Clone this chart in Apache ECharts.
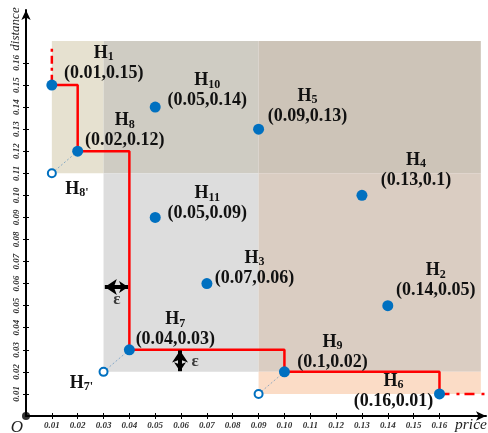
<!DOCTYPE html>
<html>
<head>
<meta charset="utf-8">
<script src="https://cdn.jsdelivr.net/npm/echarts@6/dist/echarts.min.js"></script>
<style>
html,body{margin:0;padding:0;background:#fff;}
#chart{width:488px;height:433px;}
</style>
</head>
<body>
<div id="chart"></div>
<script>
// ---------------- data ----------------
const xTicks = [0.01,0.02,0.03,0.04,0.05,0.06,0.07,0.08,0.09,0.10,0.11,0.12,0.13,0.14,0.15,0.16];
const yTicks = [0.01,0.02,0.03,0.04,0.05,0.06,0.07,0.08,0.09,0.10,0.11,0.12,0.13,0.14,0.15,0.16];

const pointSubs = ['1','10','8','5','4','11','3','2','7','9','6'];
const pointX    = [0.01,0.05,0.02,0.09,0.13,0.05,0.07,0.14,0.04,0.1,0.16];
const pointY    = [0.15,0.14,0.12,0.13,0.1,0.09,0.06,0.05,0.03,0.02,0.01];

const hollowSubs = ["8'","7'",''];
const hollowX    = [0.01,0.03,0.09];
const hollowY    = [0.11,0.02,0.01];
const hollowTargetX = [0.02,0.04,0.1];
const hollowTargetY = [0.12,0.03,0.02];

// skyline step line
const stepX = [0.01,0.02,0.02,0.04,0.04,0.1,0.1,0.16,0.16];
const stepY = [0.15,0.15,0.12,0.12,0.03,0.03,0.02,0.02,0.01];
const dashUpX = [0.01,0.01];
const dashUpY = [0.151,0.167];
const dashRightX = [0.16,0.178];
const dashRightY = [0.01,0.01];

// dominance regions
const regX0 = [0.01,0.03,0.09,0.03,0.09,0.09];
const regX1 = [0.03,0.09,0.176,0.09,0.176,0.176];
const regY0 = [0.11,0.11,0.11,0.02,0.02,0.01];
const regY1 = [0.17,0.17,0.17,0.11,0.11,0.02];

// epsilon arrows
const epsArrowH = [[0.0305,0.0585],[0.0395,0.0585]];
const epsArrowV = [[0.0596,0.0297],[0.0596,0.0203]];
const epsLabelX = [0.0352,0.0654];
const epsLabelY = [0.0526,0.0245];

// ---------------- styles ----------------
const regColors = ['#e6e1d0','#cfccc3','#cdc4b8','#dddddd','#dacdc2','#fbdcc6'];
const labelOffsets = [[52,-22],[52,-16.5],[47,-20.5],[49,-23],[54,-25.5],[52,-14],[47.5,-15.5],[48,-25],[46,-20],[48,-20],[-46,-3]];
const hollowOffsets = [[25,16],[-22,11],[0,0]];
const SERIF = "'Liberation Serif','Times New Roman',serif";
const BLUE = '#0070c0';

const richStyle = {
  h: {fontFamily:SERIF,fontWeight:'bold',fontSize:18,color:'#111',lineHeight:20},
  s: {fontFamily:SERIF,fontWeight:'bold',fontSize:12,color:'#111',lineHeight:13,verticalAlign:'bottom'},
  c: {fontFamily:SERIF,fontWeight:'bold',fontSize:18,color:'#111',lineHeight:20}
};

const pointData = pointX.map((x,i)=>({
  value:[x,pointY[i]],
  label:{
    show:true, position:'inside', offset:labelOffsets[i], align:'center', verticalAlign:'middle',
    formatter:'{h|H}{s|'+pointSubs[i]+'}\n{c|('+x+','+pointY[i]+')}',
    rich:richStyle
  }
}));
const hollowData = hollowX.map((x,i)=>({
  value:[x,hollowY[i]],
  label:{
    show: hollowSubs[i] !== '', position:'inside', offset:hollowOffsets[i], align:'center', verticalAlign:'middle',
    formatter:'{h|H}{s|'+hollowSubs[i]+'}', rich:richStyle
  }
}));

const areaData = regX0.map((x0,i)=>[
  {xAxis:x0,yAxis:regY0[i],itemStyle:{color:regColors[i],opacity:1}},
  {xAxis:regX1[i],yAxis:regY1[i]}
]);

const zip = (xs,ys)=>xs.map((x,i)=>[x,ys[i]]);

const chart = echarts.init(document.getElementById('chart'), null, {renderer:'canvas'});
const axisLabelStyle = {fontFamily:SERIF,fontStyle:'italic',fontWeight:'bold',fontSize:9,color:'#333'};

chart.setOption({
  animation:false,
  backgroundColor:'#fff',
  grid:{left:26,width:460,top:10,height:406},
  xAxis:[{
    type:'value',min:0,max:0.178,interval:0.01,
    axisLine:{show:true,lineStyle:{color:'#000',width:2},symbol:['none','arrow'],symbolSize:[7,10]},
    axisTick:{show:true,customValues:xTicks,length:3,lineStyle:{color:'#000',width:1}},
    axisLabel:{show:true,customValues:xTicks,margin:5,formatter:v=>v.toFixed(2),...axisLabelStyle},
    splitLine:{show:false}
  },{
    type:'value',min:0,max:0.178,position:'bottom',
    axisLine:{show:false},
    axisTick:{show:true,inside:true,customValues:xTicks,length:3,lineStyle:{color:'#000',width:1}},
    axisLabel:{show:false},splitLine:{show:false}
  }],
  yAxis:[{
    type:'value',min:0,max:0.184,interval:0.01,
    axisLine:{show:true,lineStyle:{color:'#000',width:2},symbol:['none','arrow'],symbolSize:[7,10]},
    axisTick:{show:true,customValues:yTicks,length:3,lineStyle:{color:'#000',width:1}},
    axisLabel:{show:true,customValues:yTicks,rotate:90,margin:5,formatter:v=>v.toFixed(2),...axisLabelStyle},
    splitLine:{show:false}
  },{
    type:'value',min:0,max:0.184,position:'left',
    axisLine:{show:false},
    axisTick:{show:true,inside:true,customValues:yTicks,length:3,lineStyle:{color:'#000',width:1}},
    axisLabel:{show:false},splitLine:{show:false}
  }],
  graphic:[
    {type:'text',x:16,y:29,rotation:Math.PI/2,style:{text:'distance',font:"italic 13px 'Liberation Serif'",fill:'#222',align:'center',verticalAlign:'middle'}},
    {type:'text',x:471,y:425,style:{text:'price',font:"italic 15.5px 'Liberation Serif'",fill:'#222',align:'center',verticalAlign:'middle'}},
    {type:'text',x:17,y:428,style:{text:'O',font:"italic 17px 'Liberation Serif'",fill:'#222',align:'center',verticalAlign:'middle'}}
  ],
  series:[
    {
      type:'line',data:[],z:1,silent:true,
      markArea:{silent:true,label:{show:false},data:areaData}
    },
    {
      type:'lines',coordinateSystem:'cartesian2d',z:3,silent:true,polyline:false,
      lineStyle:{color:'#2e75b6',width:1,type:[2,2]},
      data:hollowX.map((x,i)=>({coords:[[x,hollowY[i]],[hollowTargetX[i],hollowTargetY[i]]]}))
    },
    {
      type:'line',data:zip(stepX,stepY),symbol:'none',z:4,silent:true,
      lineStyle:{color:'#ff0000',width:2.5}
    },
    {
      type:'line',data:zip(dashUpX,dashUpY),symbol:'none',z:4,silent:true,
      lineStyle:{color:'#ff0000',width:2.5,type:[8,4,3,4]}
    },
    {
      type:'line',data:zip(dashRightX,dashRightY),symbol:'none',z:4,silent:true,
      lineStyle:{color:'#ff0000',width:2.5,type:[10,7,3,5]}
    },
    {
      type:'lines',coordinateSystem:'cartesian2d',z:5,silent:true,
      symbol:['arrow','arrow'],symbolSize:[12,9],
      lineStyle:{color:'#000',width:4,opacity:1},
      data:[{coords:epsArrowH},{coords:epsArrowV}]
    },
    {
      type:'scatter',z:5,silent:true,symbolSize:0,
      data:epsLabelX.map((x,i)=>[x,epsLabelY[i]]),
      label:{show:true,position:'inside',formatter:'ε',fontFamily:SERIF,fontWeight:'bold',fontSize:17,color:'#111'}
    },
    {
      type:'scatter',z:6,silent:true,symbol:'circle',symbolSize:11,
      itemStyle:{color:BLUE,opacity:1},data:pointData
    },
    {
      type:'scatter',z:6,silent:true,symbol:'circle',symbolSize:8,
      itemStyle:{color:'#fff',borderColor:BLUE,borderWidth:2,opacity:1},data:hollowData
    },
    {
      type:'scatter',z:6,silent:true,symbol:'circle',symbolSize:8,
      itemStyle:{color:'#000'},data:[[0,0]]
    }
  ]
});
</script>
</body>
</html>
